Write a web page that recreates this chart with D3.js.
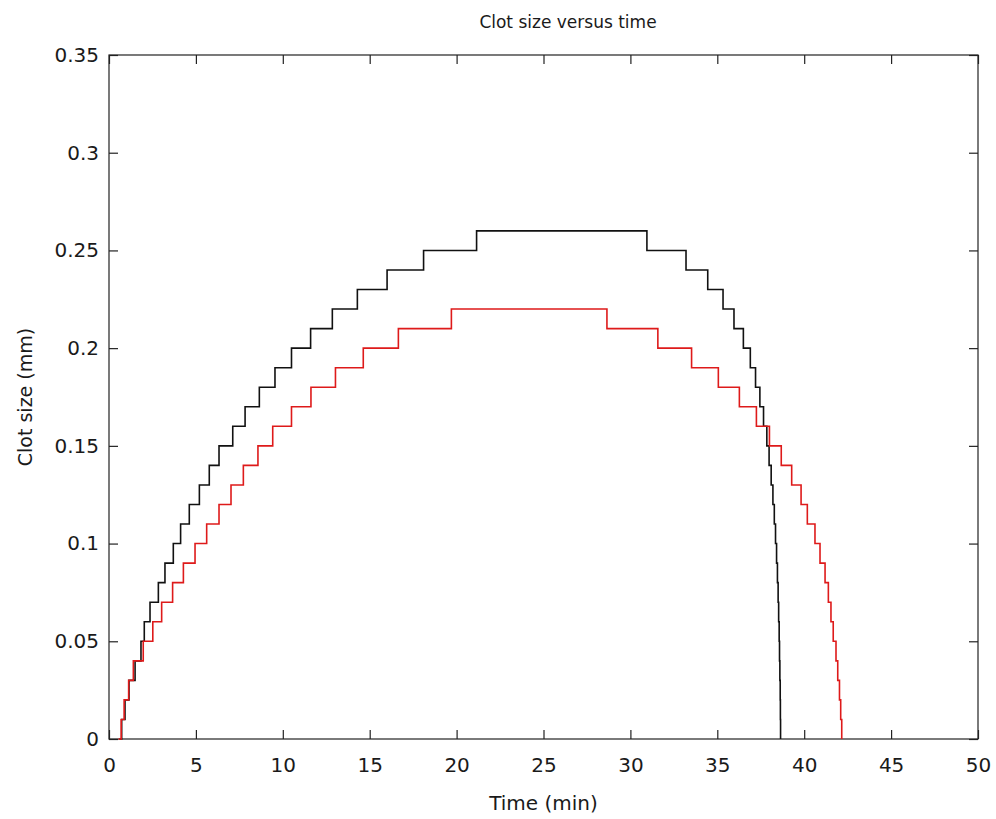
<!DOCTYPE html>
<html>
<head>
<meta charset="utf-8">
<script src="https://cdn.jsdelivr.net/npm/d3@7"></script>
<style>
  body { margin: 0; background: #fff; }
  text { font-family: "DejaVu Sans", sans-serif; fill: #1a1a1a; }
</style>
</head>
<body>
<svg id="chart"></svg>
<script>
// step times (min) and clot size (mm)
let blackTime = [0.6, 0.73, 0.92, 1.15, 1.5, 1.84, 2.03, 2.36, 2.84, 3.22, 3.7, 4.12, 4.62,
  5.2, 5.77, 6.33, 7.12, 7.83, 8.65, 9.55, 10.5, 11.6, 12.85, 14.29, 16.0, 18.1, 21.15,
  30.95, 33.2, 34.45, 35.33, 35.96, 36.5, 36.9, 37.2, 37.45, 37.66, 37.85, 37.98, 38.1,
  38.2, 38.28, 38.35, 38.41, 38.46, 38.5, 38.53, 38.56, 38.58, 38.6, 38.62, 38.63, 38.64];
let blackSize = [0, 0.01, 0.02, 0.03, 0.04, 0.05, 0.06, 0.07, 0.08, 0.09, 0.10, 0.11, 0.12,
  0.13, 0.14, 0.15, 0.16, 0.17, 0.18, 0.19, 0.20, 0.21, 0.22, 0.23, 0.24, 0.25, 0.26,
  0.25, 0.24, 0.23, 0.22, 0.21, 0.20, 0.19, 0.18, 0.17, 0.16, 0.15, 0.14, 0.13,
  0.12, 0.11, 0.10, 0.09, 0.08, 0.07, 0.06, 0.05, 0.04, 0.03, 0.02, 0.01, 0];

let redTime = [0.55, 0.7, 0.87, 1.13, 1.4, 1.97, 2.52, 3.03, 3.66, 4.28, 4.95, 5.62, 6.33,
  7.02, 7.73, 8.57, 9.42, 10.5, 11.62, 13.03, 14.63, 16.65, 19.7,
  28.65, 31.58, 33.52, 35.06, 36.27, 37.25, 38.0, 38.68, 39.28, 39.82, 40.18, 40.62,
  40.91, 41.2, 41.39, 41.54, 41.67, 41.83, 41.93, 42.03, 42.1, 42.16];
let redSize = [0, 0.01, 0.02, 0.03, 0.04, 0.05, 0.06, 0.07, 0.08, 0.09, 0.10, 0.11, 0.12,
  0.13, 0.14, 0.15, 0.16, 0.17, 0.18, 0.19, 0.20, 0.21, 0.22,
  0.21, 0.20, 0.19, 0.18, 0.17, 0.16, 0.15, 0.14, 0.13, 0.12, 0.11, 0.10,
  0.09, 0.08, 0.07, 0.06, 0.05, 0.04, 0.03, 0.02, 0.01, 0];

let xTicks = [0, 5, 10, 15, 20, 25, 30, 35, 40, 45, 50];
let yTicks = [0, 0.05, 0.1, 0.15, 0.2, 0.25, 0.3, 0.35];

let width = 996, height = 819;
let plotLeft = 109, plotRight = 978, plotTop = 55, plotBottom = 739;

let svg = d3.select("#chart")
  .attr("width", width)
  .attr("height", height);

let x = d3.scaleLinear().domain([0, 50]).range([plotLeft, plotRight]);
let y = d3.scaleLinear().domain([0, 0.35]).range([plotBottom, plotTop]);

// box
svg.append("rect")
  .attr("x", plotLeft).attr("y", plotTop)
  .attr("width", plotRight - plotLeft).attr("height", plotBottom - plotTop)
  .attr("fill", "none").attr("stroke", "#222").attr("stroke-width", 1.2);

// axes (ticks pointing inward, like matlab)
let tickLen = 9;
let fmtY = function (d) { return d === 0 ? "0" : String(+d.toFixed(2)); };

let bottomAxis = svg.append("g")
  .attr("transform", `translate(0,${plotBottom})`)
  .call(d3.axisBottom(x).tickValues(xTicks).tickSize(-tickLen).tickPadding(19));
let topAxis = svg.append("g")
  .attr("transform", `translate(0,${plotTop})`)
  .call(d3.axisTop(x).tickValues(xTicks).tickSize(-tickLen).tickFormat(""));
let leftAxis = svg.append("g")
  .attr("transform", `translate(${plotLeft},0)`)
  .call(d3.axisLeft(y).tickValues(yTicks).tickSize(-tickLen).tickFormat(fmtY).tickPadding(10));
let rightAxis = svg.append("g")
  .attr("transform", `translate(${plotRight},0)`)
  .call(d3.axisRight(y).tickValues(yTicks).tickSize(-tickLen).tickFormat(""));

[bottomAxis, topAxis, leftAxis, rightAxis].forEach(function (a) {
  a.select(".domain").remove();
  a.selectAll("line").attr("stroke", "#222").attr("stroke-width", 1.2);
  a.selectAll("text").style("font-size", "20px").attr("fill", "#1a1a1a")
    .style("font-family", '"DejaVu Sans", sans-serif');
});

// curves
let line = d3.line()
  .x(function (d) { return x(d[0]); })
  .y(function (d) { return y(d[1]); })
  .curve(d3.curveStepAfter);

let blackData = d3.zip(blackTime, blackSize);
let redData = d3.zip(redTime, redSize);

svg.append("path")
  .datum(blackData)
  .attr("d", line)
  .attr("fill", "none")
  .attr("stroke", "#111")
  .attr("stroke-width", 1.6);

svg.append("path")
  .datum(redData)
  .attr("d", line)
  .attr("fill", "none")
  .attr("stroke", "#de1a1a")
  .attr("stroke-width", 1.6);

// titles
svg.append("text")
  .attr("x", 568).attr("y", 28)
  .attr("text-anchor", "middle")
  .style("font-size", "17px")
  .text("Clot size versus time");

svg.append("text")
  .attr("x", (plotLeft + plotRight) / 2).attr("y", 810)
  .attr("text-anchor", "middle")
  .style("font-size", "20px")
  .text("Time (min)");

svg.append("text")
  .attr("transform", `translate(32,${(plotTop + plotBottom) / 2}) rotate(-90)`)
  .attr("text-anchor", "middle")
  .style("font-size", "19px")
  .text("Clot size (mm)");
</script>
</body>
</html>
